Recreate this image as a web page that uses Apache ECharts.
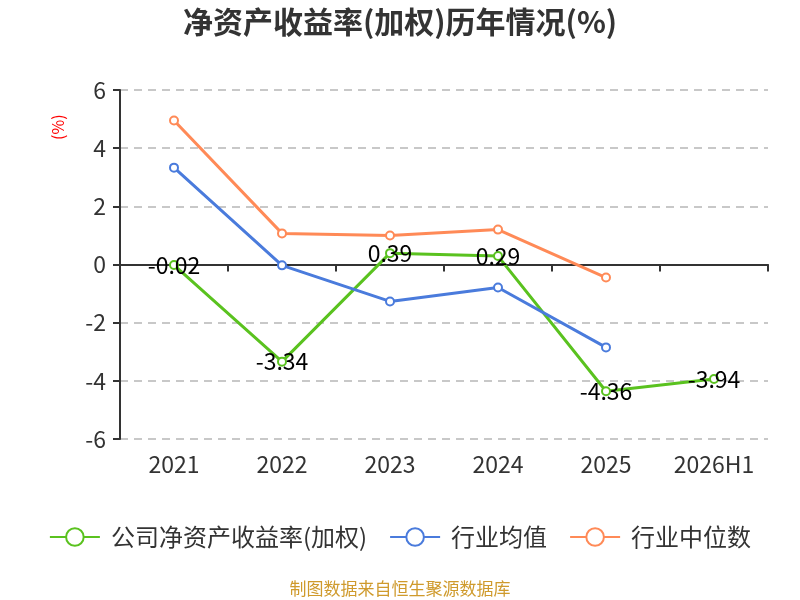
<!DOCTYPE html>
<html>
<head>
    <meta charset="UTF-8">
    <title>净资产收益率(加权)历年情况(%)</title>
    <script type="text/javascript" src="https://cdn.jsdelivr.net/npm/echarts@6/dist/echarts.min.js"></script>
</head>
<body style="margin: 0;overflow: hidden;background: #fff;">
<div id="main" style="width: 800px;height: 600px;"></div>
<script type="text/javascript">
    var years = ['2021', '2022', '2023', '2024', '2025', '2026H1'];
    var yTicks = [-6, -4, -2, 0, 2, 4, 6];
    var companyRoe = [-0.02, -3.34, 0.39, 0.29, -4.36, -3.94];
    var industryAvg = [3.33, -0.03, -1.27, -0.79, -2.85, null];
    var industryMedian = [4.95, 1.07, 1.0, 1.2, -0.45, null];

    var font = '"Noto Sans CJK SC", "Noto Sans", sans-serif';
    var chart = echarts.init(document.getElementById('main'));

    function lineSeries(name, data, color, withLabel) {
        return {
            name: name,
            type: 'line',
            data: data,
            symbol: 'emptyCircle',
            symbolSize: 8,
            lineStyle: {width: 3, color: color},
            itemStyle: {color: color, borderWidth: 1.5},
            label: {
                show: withLabel,
                position: 'inside',
                color: '#000',
                fontSize: 23,
                fontFamily: font
            }
        };
    }

    var option = {
        animation: false,
        title: {
            text: '净资产收益率(加权)历年情况(%)',
            left: 'center',
            top: 2,
            textStyle: {fontSize: 30, fontWeight: 'bold', color: '#333', fontFamily: font}
        },
        legend: {
            top: 520,
            left: 'center',
            itemWidth: 50,
            itemHeight: 22,
            itemGap: 22,
            textStyle: {fontSize: 24, color: '#333', fontFamily: font, padding: [0, 0, 0, 6]},
            data: ['公司净资产收益率(加权)', '行业均值', '行业中位数']
        },
        graphic: [{
            type: 'text',
            left: 'center',
            top: 580,
            style: {text: '制图数据来自恒生聚源数据库', fill: '#cf9a2c', fontSize: 17, fontFamily: font}
        }, {
            type: 'text',
            x: 50,
            y: 140,
            rotation: Math.PI / 2,
            style: {text: '(%)', fill: '#ff0000', fontSize: 16, fontFamily: font}
        }],
        grid: {left: 120, right: 32, top: 90, bottom: 161, containLabel: false, outerBoundsMode: 'none'},
        xAxis: [{
            // zero line with ticks
            type: 'category',
            data: years,
            axisLine: {onZero: true, lineStyle: {color: '#333', width: 2}},
            axisTick: {show: true, length: 7, lineStyle: {color: '#333', width: 2}},
            axisLabel: {show: false}
        }, {
            // year labels at the bottom
            type: 'category',
            data: years,
            position: 'bottom',
            axisLine: {show: false, onZero: false},
            axisTick: {show: false},
            axisLabel: {fontSize: 23, color: '#333', margin: 14, fontFamily: font}
        }],
        yAxis: {
            type: 'value',
            min: yTicks[0],
            max: yTicks[yTicks.length - 1],
            interval: 2,
            axisLine: {show: true, onZero: false, lineStyle: {color: '#333', width: 2}},
            axisTick: {show: true, length: 7, lineStyle: {color: '#333', width: 2}},
            axisLabel: {fontSize: 23, color: '#333', margin: 14, fontFamily: font},
            splitLine: {lineStyle: {type: [8, 6], color: '#c8c8c8', width: 2}}
        },
        series: [
            lineSeries('公司净资产收益率(加权)', companyRoe, '#5ac21f', true),
            lineSeries('行业均值', industryAvg, '#4a7bdc', false),
            lineSeries('行业中位数', industryMedian, '#ff8a57', false)
        ]
    };
    chart.setOption(option);
</script>
</body>
</html>
